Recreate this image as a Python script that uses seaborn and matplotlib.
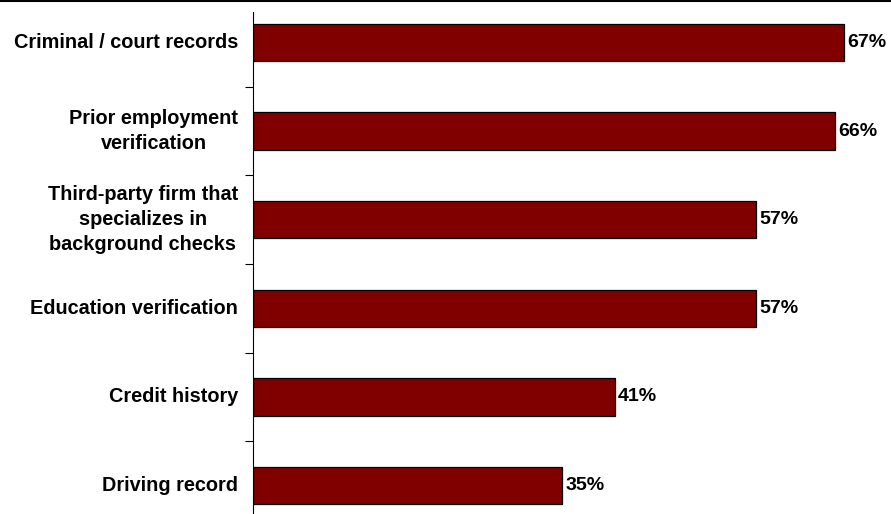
import matplotlib
matplotlib.use("Agg")
import matplotlib.pyplot as plt
import seaborn as sns
import pandas as pd

categories = [
    "Criminal / court records",
    "Prior employment\nverification",
    "Third-party firm that\nspecializes in\nbackground checks",
    "Education verification",
    "Credit history",
    "Driving record",
]
values = [67, 66, 57, 57, 41, 35]
value_labels = ["67%", "66%", "57%", "57%", "41%", "35%"]

sns.set_theme(style="white")
plt.rcParams["font.family"] = ["Liberation Sans", "DejaVu Sans"]

df = pd.DataFrame({"cat": categories, "val": values})

W, H = 891, 514
fig = plt.figure(figsize=(W / 100, H / 100), dpi=100)
ax_left, ax_right, ax_top, ax_bot = 253, 891, 12, 513
ax = fig.add_axes([ax_left / W, 1 - ax_bot / H, (ax_right - ax_left) / W, (ax_bot - ax_top) / H])

sns.barplot(data=df, x="val", y="cat", orient="h", color="#800000", saturation=1,
            edgecolor="black", linewidth=0.9, width=0.42, ax=ax)

px_per_unit = 8.82
ax.set_xlim(0, (ax_right - ax_left) / px_per_unit)
step = 88.6
c0 = 42.5
ax.set_ylim((ax_bot - c0) / step, (ax_top - c0) / step)

for i, (v, lab) in enumerate(zip(values, value_labels)):
    ax.text(v + 0.4, i, lab, va="center", ha="left", fontsize=14, fontweight="bold", color="black")

ax.set_xlabel("")
ax.set_ylabel("")
ax.set_xticks([])
ax.set_yticks([i + 0.5 for i in range(len(categories) - 1)])
ax.set_yticklabels([])
ax.tick_params(axis="y", which="major", left=True, length=6, width=0.8, color="black", direction="out")
for s in ["top", "right", "bottom"]:
    ax.spines[s].set_visible(False)
ax.spines["left"].set_color("black")
ax.spines["left"].set_linewidth(0.8)

for i, c in enumerate(categories):
    ax.text(-15 / px_per_unit, i, c, ha="right", va="center", multialignment="center",
            fontsize=14.3, fontweight="bold", color="black", linespacing=1.4)

fig.add_artist(plt.Line2D([0, 1], [1 - 1 / H, 1 - 1 / H], color="black", linewidth=1.5, transform=fig.transFigure))

fig.savefig("out.png", dpi=100)
